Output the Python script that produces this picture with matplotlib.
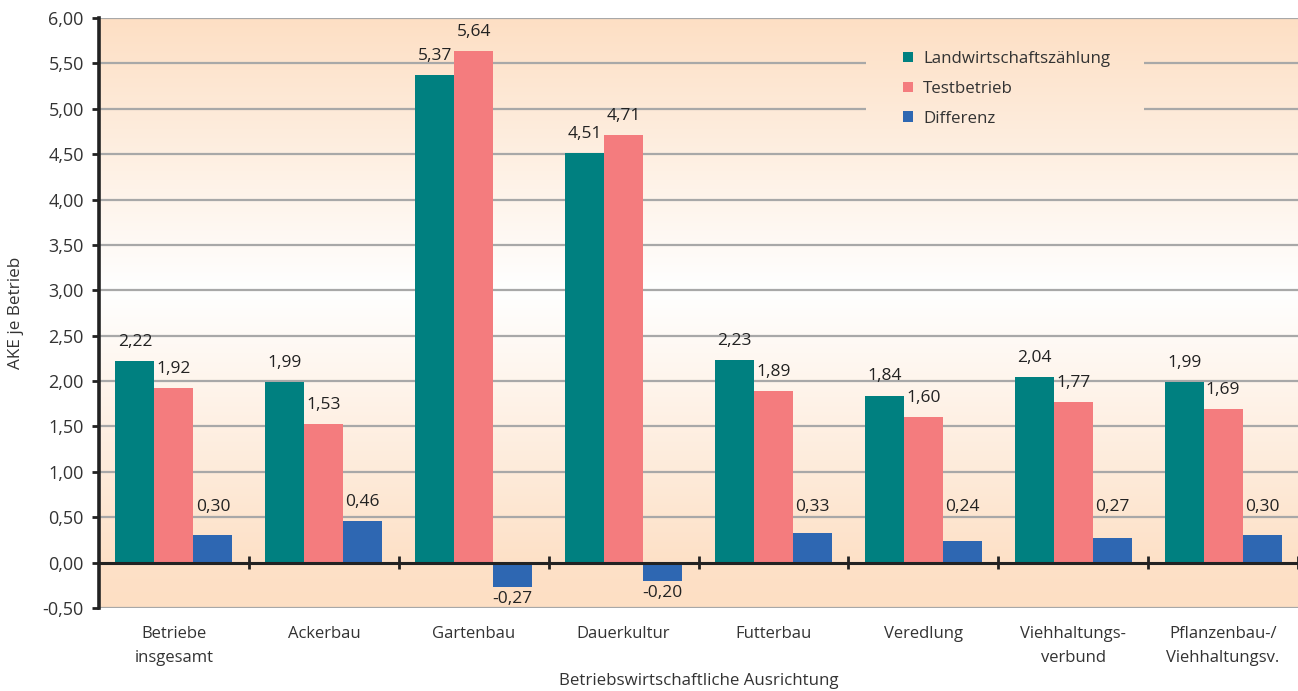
import numpy as np
import matplotlib
matplotlib.use("Agg")
import matplotlib.pyplot as plt
import matplotlib.ticker as ticker
from matplotlib.colors import to_rgb
from matplotlib.patches import Rectangle

plt.rcParams['font.family'] = ['Open Sans', 'DejaVu Sans']
plt.rcParams['text.color'] = '#333333'

# Daten
kategorien = ['Betriebe\ninsgesamt', 'Ackerbau', 'Gartenbau', 'Dauerkultur',
              'Futterbau', 'Veredlung', 'Viehhaltungs-\nverbund', 'Pflanzenbau-/\nViehhaltungsv.']
lwz = [2.22, 1.99, 5.37, 4.51, 2.23, 1.84, 2.04, 1.99]
testbetrieb = [1.92, 1.53, 5.64, 4.71, 1.89, 1.60, 1.77, 1.69]
differenz = [0.30, 0.46, -0.27, -0.20, 0.33, 0.24, 0.27, 0.30]
serien = ['Landwirtschaftszählung', 'Testbetrieb', 'Differenz']
farben = ['#008080', '#F47C7E', '#2E67B2']

W, H = 1298, 691
fig = plt.figure(figsize=(W / 100, H / 100), dpi=100)
ax = fig.add_axes([99 / W, (H - 608) / H, (W - 99) / W, 590 / H])

ymin, ymax = -0.5, 6.0
x = np.arange(len(kategorien))

# Hintergrund-Verlauf (pfirsich - weiss - pfirsich)
peach = np.array(to_rgb('#FDDFC4'))
white = np.array([1.0, 1.0, 1.0])
yy = np.linspace(ymin, ymax, 400)
t = np.interp(yy, [-0.5, 0.0, 3.0, 6.0], [1.0, 0.95, 0.0, 1.0])
img = (white[None, :] * (1 - t[:, None]) + peach[None, :] * t[:, None])[:, None, :]
ax.imshow(img, extent=[-0.5, 7.5, ymin, ymax], origin='lower', aspect='auto', zorder=0)

# Gitterlinien
for g in np.arange(ymin, ymax + 0.01, 0.5):
    if abs(g) > 1e-9:
        ax.axhline(g, color='#A8A8A8', lw=1.6, zorder=1)

# Legendenfeld verdeckt die Gitterlinien (gleicher Verlauf darueber)
box = Rectangle((866 / W, 1 - 140 / H), (1143 - 866) / W, (140 - 24) / H,
                transform=fig.transFigure, facecolor='none', edgecolor='none')
fig.add_artist(box)
cover = ax.imshow(img, extent=[-0.5, 7.5, ymin, ymax], origin='lower', aspect='auto', zorder=2)
cover.set_clip_path(box)

bw = 0.26
for i, (vals, col, name) in enumerate(zip([lwz, testbetrieb, differenz], farben, serien)):
    pos = x + (i - 1) * bw
    ax.bar(pos, vals, width=bw, color=col, label=name, zorder=3)
    for px, v in zip(pos, vals):
        txt = f'{v:.2f}'.replace('.', ',')
        if v >= 0:
            ax.annotate(txt, (px, max(v, 0.40)), xytext=(0, 8), textcoords='offset points',
                        ha='center', va='bottom', fontsize=12.5, color='#222222', zorder=5)
        else:
            ax.annotate(txt, (px, v), xytext=(0, -3), textcoords='offset points',
                        ha='center', va='top', fontsize=12.5, color='#222222', zorder=5)

# Nulllinie mit Trennstrichen
ax.axhline(0, color='#222222', lw=2.2, zorder=4)
ax.vlines(np.arange(0.5, 8, 1.0), -0.075, 0.075, color='#222222', lw=2, zorder=4)

ax.set_xlim(-0.5, 7.5)
ax.set_ylim(ymin, ymax)
ax.set_yticks(np.arange(ymin, ymax + 0.01, 0.5))
ax.yaxis.set_major_formatter(ticker.FuncFormatter(lambda v, p: f'{v:.2f}'.replace('.', ',')))
ax.set_xticks(x)
ax.set_xticklabels(kategorien, fontsize=12, color='#333333', linespacing=1.64)
ax.tick_params(axis='x', length=0, pad=13)
ax.tick_params(axis='y', length=5, width=2, color='#222222', labelsize=13,
               labelcolor='#333333', pad=6)

for s in ['top', 'right', 'bottom']:
    ax.spines[s].set_visible(False)
ax.spines['left'].set_color('#222222')
ax.spines['left'].set_linewidth(2.6)
ax.spines['left'].set_zorder(6)

ax.set_ylabel('AKE je Betrieb', fontsize=12.3, color='#333333')
ax.yaxis.set_label_coords(-75 / 1199, 0.5)
ax.set_xlabel('Betriebswirtschaftliche Ausrichtung', fontsize=12.2, color='#333333', labelpad=5)

leg = ax.legend(loc='upper left', bbox_to_anchor=(903 / W, 1 - 51 / H),
                bbox_transform=fig.transFigure, fontsize=12.2, frameon=False,
                handlelength=0.6, handleheight=0.6, handletextpad=0.6,
                labelspacing=0.82, borderpad=0, borderaxespad=0)
leg.set_zorder(7)

fig.savefig('out.png', dpi=100)
